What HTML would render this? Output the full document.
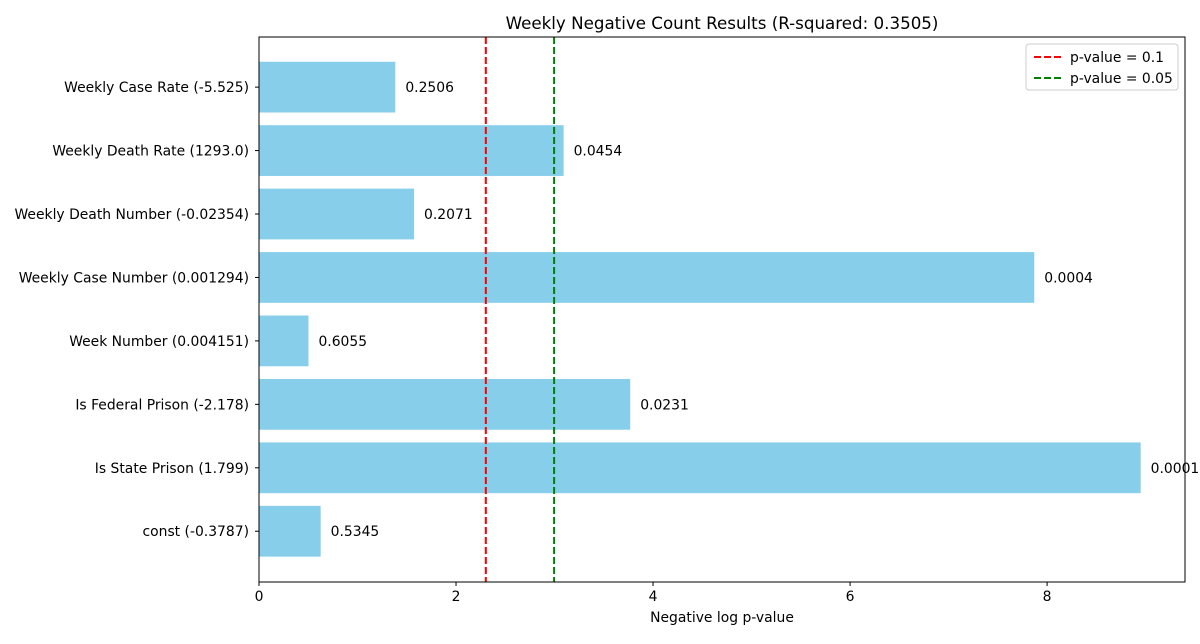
<!DOCTYPE html>
<html><head><meta charset="utf-8"><style>
body{margin:0;background:#fff;font-family:"DejaVu Sans","Liberation Sans",sans-serif;}
text{font-family:"DejaVu Sans","Liberation Sans",sans-serif;}
</style></head><body>
<svg id="chart" width="1200" height="640" xmlns="http://www.w3.org/2000/svg">
<text x="722" y="29" text-anchor="middle" font-size="16.7">Weekly Negative Count Results (R-squared: 0.3505)</text>
<g id="plot"></g>
<text x="722" y="622" text-anchor="middle" font-size="13.9">Negative log p-value</text>
</svg>
<script>
const categories=["const (-0.3787)","Is State Prison (1.799)","Is Federal Prison (-2.178)","Week Number (0.004151)","Weekly Case Number (0.001294)","Weekly Death Number (-0.02354)","Weekly Death Rate (1293.0)","Weekly Case Rate (-5.525)"];
const values=[0.626,8.95,3.768,0.502,7.87,1.574,3.092,1.384];
const pLabels=["0.5345","0.0001","0.0231","0.6055","0.0004","0.2071","0.0454","0.2506"];
const xTicks=[0,2,4,6,8];
const thresholds=[0.1,0.05];
const L=259,R=1185,T=37,B=582,XMAX=9.40;
const FS=13.9;
const x=v=>L+v/XMAX*(R-L);
const yMin=-0.8,yMax=7.79;
const y=i=>B-(i-yMin)/(yMax-yMin)*(B-T);
const bandH=(B-T)/(yMax-yMin);
const ns="http://www.w3.org/2000/svg";
const g=document.getElementById('plot');
function mk(t,a){const e=document.createElementNS(ns,t);for(const k in a)e.setAttribute(k,a[k]);g.appendChild(e);return e;}
values.forEach((v,i)=>{
 const r=mk('rect',{x:L,y:y(i)-bandH*0.4,width:x(v)-L,height:bandH*0.8,fill:'#87ceeb'});
 
 
 const t=mk('text',{x:x(v)+10,y:y(i)+5,'font-size':FS});
 t.textContent=pLabels[i];
 
 
 mk('line',{x1:L-4,x2:L,y1:y(i),y2:y(i),stroke:'#000'});
 const lb=mk('text',{x:L-10,y:y(i)+5,'font-size':FS,'text-anchor':'end'});
 lb.textContent=categories[i];
 
 
});
const colors=['#ff0000','#008000'];
thresholds.forEach((p,j)=>{
 const l=mk('line',{x1:x(-Math.log(p)),x2:x(-Math.log(p)),y1:T,y2:B,stroke:colors[j],'stroke-width':2,'stroke-dasharray':'7,3'});
 
 
});
xTicks.forEach(v=>{
 mk('line',{x1:x(v),x2:x(v),y1:B,y2:B+4,stroke:'#000'});
 const t=mk('text',{x:x(v),y:B+19,'font-size':FS,'text-anchor':'middle'});
 t.textContent=v;
 
 
});
const ax=mk('rect',{x:L,y:T,width:R-L,height:B-T,fill:'none',stroke:'#000','stroke-width':1});


const lg=mk('rect',{x:1026,y:44,width:152,height:46,rx:3,fill:'#fff','fill-opacity':0.8,stroke:'#ccc'});


thresholds.forEach((p,j)=>{
 const yy=57+j*21;
 mk('line',{x1:1034,x2:1062,y1:yy,y2:yy,stroke:colors[j],'stroke-width':2,'stroke-dasharray':'7,3'});
 const t=mk('text',{x:1070,y:yy+5,'font-size':FS});
 t.textContent='p-value = '+p;
 
 
});
</script>
</body></html>
